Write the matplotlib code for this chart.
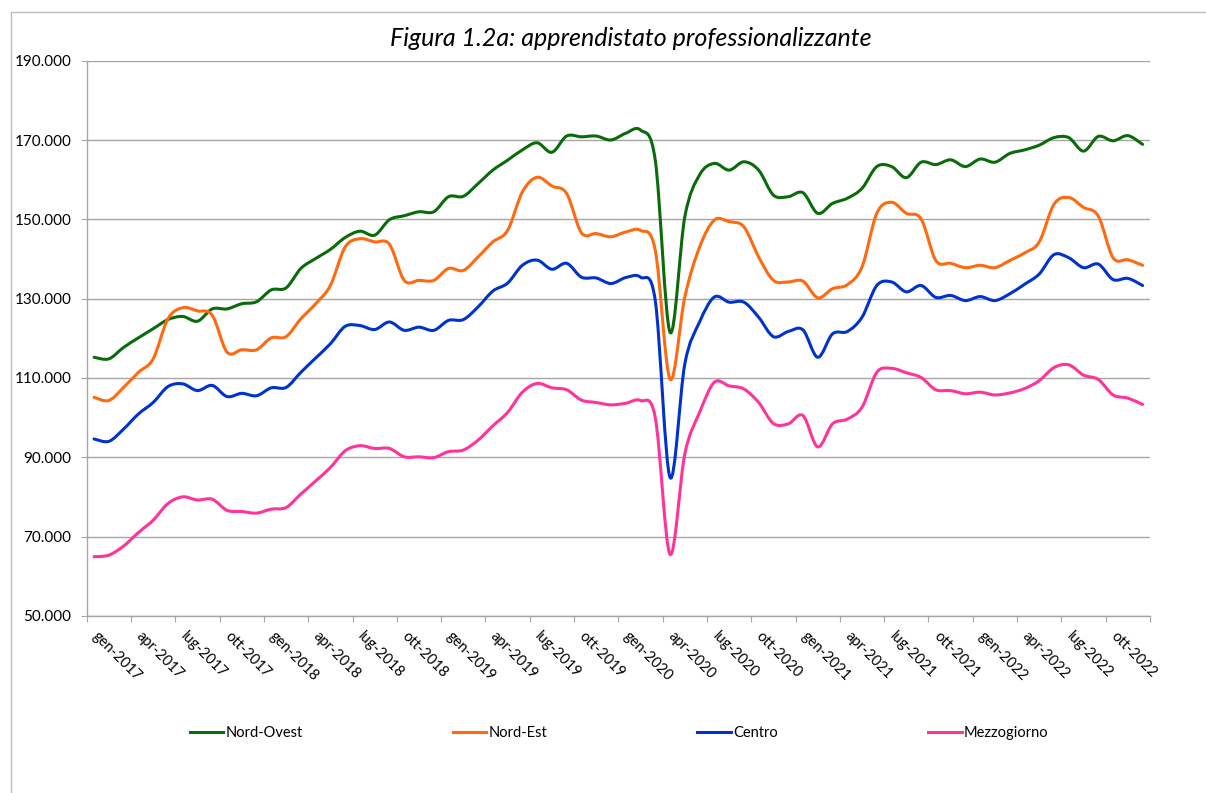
import matplotlib
matplotlib.use('Agg')
import numpy as np
import matplotlib.pyplot as plt
from matplotlib.path import Path
from matplotlib.patches import PathPatch
from matplotlib.lines import Line2D
from matplotlib.ticker import FuncFormatter, FixedLocator

plt.rcParams['font.family'] = ['Lato', 'DejaVu Sans']

# ---------------- data (thousands) ----------------
months = ['gen', 'feb', 'mar', 'apr', 'mag', 'giu', 'lug', 'ago', 'set', 'ott', 'nov', 'dic']
years = [2017, 2018, 2019, 2020, 2021, 2022]
categories = [f"{m}-{y}" for y in years for m in months]

nord_ovest = [115.2, 114.8, 117.7, 120.1, 122.4, 124.7, 125.5, 124.3, 127.4, 127.4, 128.7, 129.2,
              132.2, 132.7, 137.6, 140.1, 142.4, 145.4, 147.0, 146.0, 149.9, 150.9, 151.9, 151.9,
              155.7, 155.8, 159.0, 162.4, 164.9, 167.5, 169.3, 166.9, 171.0, 170.8, 171.0, 170.0,
              171.7, 172.5, 164.9, 121.5, 150.6, 161.2, 164.1, 162.4, 164.5, 162.4, 156.1, 155.7,
              156.7, 151.5, 154.0, 155.3, 157.8, 163.3, 163.3, 160.5, 164.4, 163.8, 165.0, 163.3,
              165.2, 164.4, 166.6, 167.5, 168.7, 170.6, 170.6, 167.2, 170.9, 169.8, 171.1, 168.9]

nord_est = [105.1, 104.3, 107.6, 111.4, 114.8, 124.9, 127.7, 126.9, 125.8, 116.5, 117.1, 117.1,
            120.1, 120.4, 124.9, 128.7, 133.3, 143.0, 145.1, 144.3, 143.7, 134.6, 134.6, 134.6,
            137.6, 137.1, 140.5, 144.3, 147.2, 156.9, 160.6, 158.4, 156.5, 146.6, 146.4, 145.6,
            146.8, 147.2, 142.2, 109.7, 130.4, 143.0, 149.8, 149.4, 148.1, 140.5, 134.6, 134.2,
            134.4, 130.2, 132.5, 133.5, 138.0, 151.5, 154.3, 151.5, 150.1, 139.6, 138.9, 137.8,
            138.4, 137.8, 139.6, 141.5, 144.3, 153.8, 155.5, 153.0, 150.8, 140.3, 139.8, 138.4]

centro = [94.6, 94.0, 97.1, 100.9, 103.8, 107.8, 108.5, 106.8, 108.1, 105.3, 106.1, 105.5,
          107.5, 107.6, 111.4, 115.0, 118.6, 123.0, 123.2, 122.2, 124.1, 122.0, 122.8, 122.0,
          124.5, 124.7, 127.9, 131.9, 133.9, 138.4, 139.7, 137.4, 138.9, 135.4, 135.2, 133.8,
          135.3, 135.4, 129.5, 84.9, 113.5, 124.1, 130.4, 129.1, 129.1, 125.3, 120.4, 121.7,
          122.1, 115.2, 121.1, 121.7, 125.3, 133.3, 134.2, 131.7, 133.3, 130.3, 130.8, 129.5,
          130.5, 129.5, 131.2, 133.6, 136.2, 141.1, 140.3, 137.8, 138.7, 134.8, 135.1, 133.3]

mezzogiorno = [64.9, 65.3, 67.6, 71.0, 74.1, 78.3, 80.0, 79.2, 79.4, 76.6, 76.3, 75.9,
               76.9, 77.3, 80.7, 84.0, 87.4, 91.6, 92.9, 92.2, 92.2, 90.1, 90.1, 89.9,
               91.4, 91.8, 94.3, 97.9, 101.3, 106.4, 108.6, 107.5, 107.0, 104.4, 103.8, 103.2,
               103.6, 104.3, 100.0, 65.5, 90.8, 101.3, 108.9, 108.0, 107.2, 103.8, 98.5, 98.4,
               100.5, 92.6, 98.4, 99.6, 102.6, 111.4, 112.4, 111.3, 110.1, 107.0, 106.8, 106.0,
               106.4, 105.7, 106.2, 107.3, 109.3, 112.6, 113.3, 110.7, 109.6, 105.7, 104.9, 103.3]

series_names = ['Nord-Ovest', 'Nord-Est', 'Centro', 'Mezzogiorno']
series_values = [nord_ovest, nord_est, centro, mezzogiorno]
series_colors = ['#0A6B0A', '#FF6A10', '#0033CC', '#FF3399']

# ---------------- figure ----------------
W, H = 1206, 793
fig = plt.figure(figsize=(W / 100, H / 100), dpi=100)
x0, x1, y0, y1 = 86.7, 1150, 60.7, 615.8
ax = fig.add_axes([x0 / W, 1 - y1 / H, (x1 - x0) / W, (y1 - y0) / H])

n = len(categories)
ax.set_xlim(-0.5, n - 0.5)
ax.set_ylim(50000, 190000)


def smooth_path(xs, ys):
    pts = np.column_stack([xs, ys]).astype(float)
    verts = [pts[0]]
    codes = [Path.MOVETO]
    m = len(pts)
    for i in range(m - 1):
        p_prev = pts[i - 1] if i > 0 else pts[i]
        p0, p1 = pts[i], pts[i + 1]
        p_next = pts[i + 2] if i + 2 < m else pts[i + 1]
        c1 = p0 + (p1 - p_prev) / 6.0
        c2 = p1 - (p_next - p0) / 6.0
        verts += [c1, c2, p1]
        codes += [Path.CURVE4] * 3
    return Path(verts, codes)


xs = np.arange(n)
for name, vals, col in zip(series_names, series_values, series_colors):
    ys = np.array(vals) * 1000
    patch = PathPatch(smooth_path(xs, ys), facecolor='none', edgecolor=col, lw=2.2,
                      capstyle='round', joinstyle='round', zorder=3)
    ax.add_patch(patch)

# grid & spines
grid_col = '#A6A6A6'
ax.set_yticks(np.arange(50000, 190001, 20000))
ax.yaxis.set_major_formatter(FuncFormatter(lambda v, p: f"{int(v):,}".replace(',', '.')))
ax.yaxis.grid(True, color=grid_col, lw=1.0)
ax.set_axisbelow(True)
for s in ['top', 'right']:
    ax.spines[s].set_visible(False)
for s in ['left', 'bottom']:
    ax.spines[s].set_color(grid_col)
    ax.spines[s].set_linewidth(1.0)

ax.tick_params(axis='y', length=4, color=grid_col, labelsize=11, pad=7, labelcolor='#000000')
ax.xaxis.set_major_locator(FixedLocator(np.arange(-0.5, n, 3)))
ax.xaxis.set_minor_locator(FixedLocator(np.arange(0, n, 3)))
ax.tick_params(axis='x', which='major', length=4, color=grid_col, labelbottom=False)
ax.tick_params(axis='x', which='minor', length=0, labelsize=10.5, pad=13)
ax.set_xticklabels([categories[i] for i in range(0, n, 3)], minor=True)
for lab in ax.get_xticklabels(minor=True):
    lab.set_rotation(-45)
    lab.set_ha('left')
    lab.set_va('center')
    lab.set_rotation_mode('anchor')

# title
fig.text(631 / W, 1 - 38 / H, 'Figura 1.2a: apprendistato professionalizzante',
         ha='center', va='center', style='italic', fontsize=18)

# legend
handles = [Line2D([0], [0], color=c, lw=2.2) for c in series_colors]
fig.legend(handles, series_names, loc='center', bbox_to_anchor=(619 / W, 1 - 733 / H),
           ncol=4, frameon=False, handlelength=2.3, handletextpad=0.15,
           columnspacing=10.3, fontsize=10.5)

# chart border
bc = '#BFBFBF'
fig.add_artist(Line2D([11 / W, 11 / W], [0, 1 - 12 / H], transform=fig.transFigure, color=bc, lw=1))
fig.add_artist(Line2D([11 / W, 1], [1 - 12 / H, 1 - 12 / H], transform=fig.transFigure, color=bc, lw=1))

fig.savefig('out.png', dpi=100)
